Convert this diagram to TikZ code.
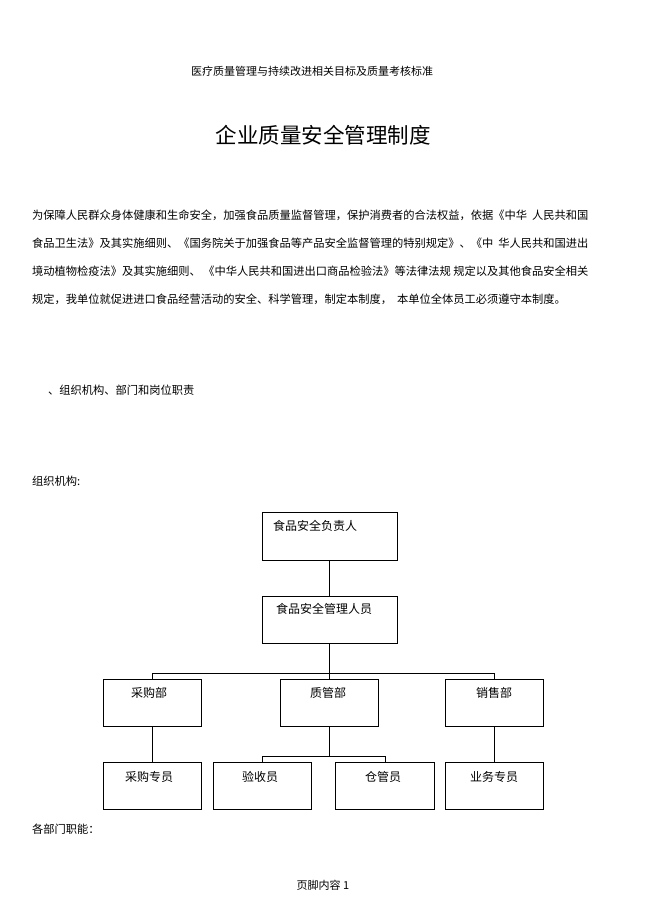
\documentclass[tikz,border=0pt]{standalone}
\usepackage{fontspec}
\setmainfont{Noto Sans CJK SC}
\begin{document}
\begin{tikzpicture}[x=1pt,y=-1pt,
  box/.style={draw,line width=0.8pt},
  lab/.style={font=\fontsize{12}{14}\selectfont},
  txt/.style={anchor=west,inner sep=0,font=\fontsize{11.25}{13}\selectfont},
  conn/.style={line width=0.6pt}]
\useasboundingbox (0,0) rectangle (649,920);
\node[inner sep=0,font=\fontsize{11}{13}\selectfont] (hdr) at (312,71) {医疗质量管理与持续改进相关目标及质量考核标准};
\node[inner sep=0,font=\fontsize{21.5}{24}\selectfont] (ttl) at (323,135) {企业质量安全管理制度};
\node[txt] (p1) at (32,215) {为保障人民群众身体健康和生命安全，加强食品质量监督管理，保护消费者的合法权益，依据《中华\ \ 人民共和国};
\node[txt] (p2) at (32,243) {食品卫生法》及其实施细则、《国务院关于加强食品等产品安全监督管理的特别规定》、《中\ \ 华人民共和国进出};
\node[txt] (p3) at (32,271) {境动植物检疫法》及其实施细则、\ 《中华人民共和国进出口商品检验法》等法律法规\ 规定以及其他食品安全相关};
\node[txt] (p4) at (32,299) {规定，我单位就促进进口食品经营活动的安全、科学管理，制定本制度，\ \ 本单位全体员工必须遵守本制度。};
\node[txt] (s1) at (48,390) {、组织机构、部门和岗位职责};
\node[txt] (s2) at (32,481) {组织机构:};
\node[txt] (s3) at (32,829) {各部门职能：};
\node[inner sep=0,font=\fontsize{11}{13}\selectfont] (ft) at (323,885) {页脚内容 1};
% boxes
\draw[box] (262,512) rectangle (397,560);
\node[lab] (a) at (315,526) {食品安全负责人};
\draw[box] (262,596) rectangle (397,643);
\node[lab] (b) at (324,609) {食品安全管理人员};
\draw[box] (103,679) rectangle (201,726); \node[lab] (c1) at (149,693) {采购部};
\draw[box] (280,679) rectangle (378,726); \node[lab] (c2) at (328,693) {质管部};
\draw[box] (445,679) rectangle (543,726); \node[lab] (c3) at (494,693) {销售部};
\draw[box] (103,762) rectangle (201,809); \node[lab] (d1) at (149,777) {采购专员};
\draw[box] (213,762) rectangle (311,809); \node[lab] (d2) at (260,777) {验收员};
\draw[box] (335,762) rectangle (434,809); \node[lab] (d3) at (383,777) {仓管员};
\draw[box] (445,762) rectangle (543,809); \node[lab] (d4) at (494,777) {业务专员};
% connectors
\draw[conn] (329.5,560) -- (329.5,596);
\draw[conn] (329.5,643) -- (329.5,673);
\draw[conn] (152,679) -- (152,673) -- (494,673) -- (494,679);
\draw[conn] (329.5,673) -- (329.5,679);
\draw[conn] (152,726) -- (152,762);
\draw[conn] (494,726) -- (494,762);
\draw[conn] (329.5,726) -- (329.5,756);
\draw[conn] (262,762) -- (262,756) -- (385,756) -- (385,762);
\end{tikzpicture}
\end{document}
